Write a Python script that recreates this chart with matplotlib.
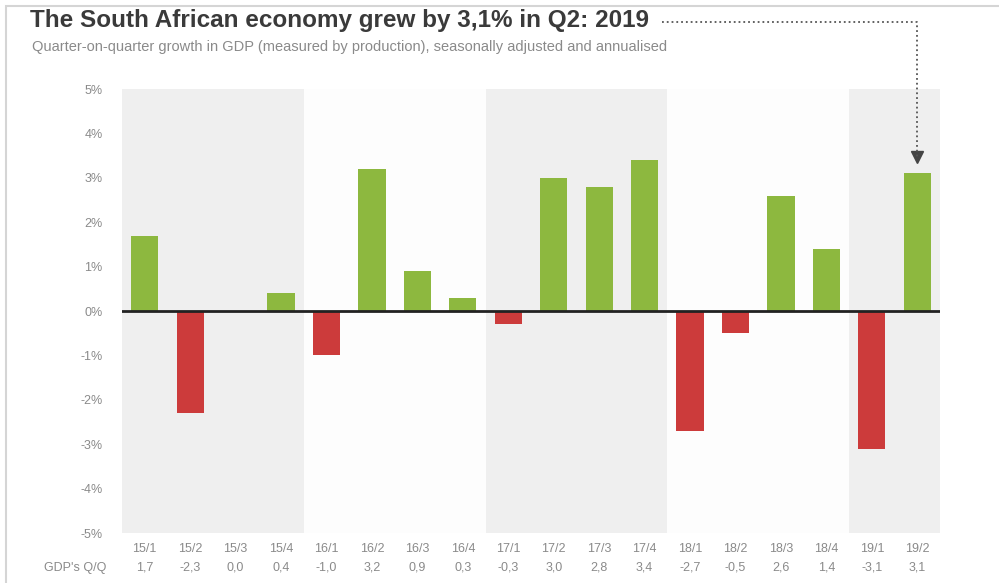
import matplotlib.pyplot as plt
import matplotlib.transforms as mtransforms
from matplotlib.lines import Line2D
from matplotlib.patches import Rectangle

# Quarter labels and GDP q/q growth (%, seasonally adjusted & annualised)
quarters = ["15/1", "15/2", "15/3", "15/4", "16/1", "16/2", "16/3", "16/4",
            "17/1", "17/2", "17/3", "17/4", "18/1", "18/2", "18/3", "18/4",
            "19/1", "19/2"]
growth = [1.7, -2.3, 0.0, 0.4, -1.0, 3.2, 0.9, 0.3,
          -0.3, 3.0, 2.8, 3.4, -2.7, -0.5, 2.6, 1.4,
          -3.1, 3.1]
yticks = [5, 4, 3, 2, 1, 0, -1, -2, -3, -4, -5]
year_bands = [(0, 3), (8, 11), (16, 17)]   # shaded years: 2015, 2017, 2019

green = "#8db83f"
red = "#cc3b3b"
grey_txt = "#8a8a8a"

plt.rcParams['font.family'] = ['Liberation Sans', 'DejaVu Sans']

fig = plt.figure(figsize=(9.99, 5.83), dpi=100)
fig.patch.set_facecolor("white")
ax = fig.add_axes([122 / 999, 1 - 533 / 583, (940 - 122) / 999, (533 - 89) / 583])
ax.set_facecolor("#fdfdfd")

# light card frame
fig.patches.append(Rectangle((6 / 999, -0.1), 1.2, 1 - 6 / 583 + 0.1, transform=fig.transFigure,
                             fill=False, edgecolor="#d5d5d5", lw=1.5))

for a, b in year_bands:
    ax.axvspan(a - 0.5, b + 0.5, color="#efefef", lw=0, zorder=0)

x = list(range(len(quarters)))
colors = [green if v >= 0 else red for v in growth]
ax.bar(x, growth, width=0.6, color=colors, zorder=2)
ax.axhline(0, color="#222222", lw=2, zorder=3)

ax.set_xlim(-0.5, len(quarters) - 0.5)
ax.set_ylim(-5, 5)
ax.set_yticks(yticks)
ax.set_yticklabels([f"{t}%" for t in yticks], color=grey_txt, fontsize=9)
ax.set_xticks(x)
ax.set_xticklabels(quarters, color=grey_txt, fontsize=9)
ax.tick_params(length=0, axis="y", pad=14)
ax.tick_params(length=0, axis="x", pad=7)
for s in ax.spines.values():
    s.set_visible(False)

# value row under the quarter labels
trans = mtransforms.blended_transform_factory(ax.transData, fig.transFigure)
for xi, v in zip(x, growth):
    ax.text(xi, 1 - 568 / 583, f"{v:.1f}".replace(".", ","), transform=trans,
            ha="center", va="center", color=grey_txt, fontsize=9)
fig.text(106 / 999, 1 - 568 / 583, "GDP's Q/Q", ha="right", va="center",
         color=grey_txt, fontsize=9)

# title and subtitle
fig.text(30 / 999, 1 - 21 / 583, "The South African economy grew by 3,1% in Q2: 2019",
         fontsize=17.5, fontweight="bold", color="#3a3a3a", ha="left", va="center")
fig.text(32 / 999, 1 - 47 / 583,
         "Quarter-on-quarter growth in GDP (measured by production), seasonally adjusted and annualised",
         fontsize=10.5, color="#8a8a8a", ha="left", va="center")

# dotted pointer from title to the latest bar
fig.canvas.draw()
bar_fx = fig.transFigure.inverted().transform(ax.transData.transform((17, 0)))[0]
top_fy = 1 - 22 / 583
fig.lines.append(Line2D([662 / 999, bar_fx, bar_fx], [top_fy, top_fy, 1 - 158 / 583],
                        transform=fig.transFigure, color="#555555", lw=1.3, ls=":"))
ax.plot([17], [3.47], marker="v", markersize=8, color="#444444", clip_on=False, zorder=4)

fig.savefig("out.png", dpi=100)
